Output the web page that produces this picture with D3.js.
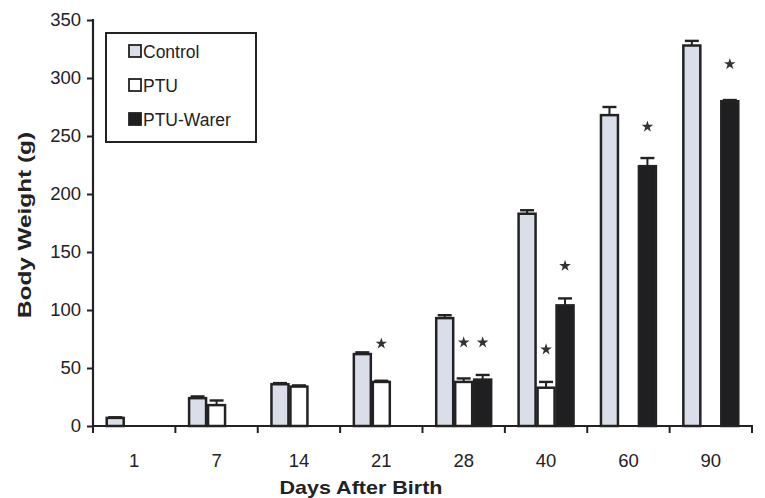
<!DOCTYPE html>
<html><head><meta charset="utf-8">
<script src="https://cdn.jsdelivr.net/npm/d3@7"></script>
<style>body{margin:0;background:#fff}svg{display:block}text{font-family:"Liberation Sans",Arial,sans-serif;fill:#222}</style>
</head><body><svg id="c" width="765" height="498"></svg>
<script>
const days = ["1","7","14","21","28","40","60","90"];
const seriesNames = ["Control","PTU","PTU-Warer"];
const controlVals = [7,24,36,62,93,183,268,328];
const controlErr  = [0.5,1.5,1,1.5,2.5,3,7,4];
const ptuVals     = [null,18,34,38,38,33,null,null];
const ptuErr      = [null,4,1,1,3,5,null,null];
const warerVals   = [null,null,null,null,40,104,224,280];
const warerErr    = [null,null,null,null,4,6,7,1];
// significance marks: [day, series, y position in g]
const starDays    = ["21","28","28","40","40","60","90"];
const starSeries  = ["PTU","PTU","PTU-Warer","PTU","PTU-Warer","PTU-Warer","PTU-Warer"];
const starY       = [71,72,72,66,138,258,312];
const yTicks = [0,50,100,150,200,250,300,350];

const fills = {"Control":"#d9dee8","PTU":"#ffffff","PTU-Warer":"#1f1f22"};
const svg = d3.select("#c");
const x = d3.scaleBand().domain(days).range([93,752]).padding(0);
const xi = d3.scaleBand().domain(seriesNames).range([0,x.bandwidth()]).paddingInner(0).paddingOuter(0.67);
const y = d3.scaleLinear().domain([0,350]).range([426,20]);

const vals = {"Control":controlVals,"PTU":ptuVals,"PTU-Warer":warerVals};
const errs = {"Control":controlErr,"PTU":ptuErr,"PTU-Warer":warerErr};
const rows = [];
seriesNames.forEach(s=>days.forEach((d,i)=>{ if(vals[s][i]!=null) rows.push({s,d,v:vals[s][i],e:errs[s][i]}); }));

const g = svg.append("g");
const eb = g.selectAll("g.eb").data(rows.filter(r=>r.e)).join("g");
eb.append("line").attr("x1",r=>x(r.d)+xi(r.s)+xi.bandwidth()/2).attr("x2",r=>x(r.d)+xi(r.s)+xi.bandwidth()/2)
  .attr("y1",r=>y(r.v)).attr("y2",r=>y(r.v+r.e)).attr("stroke","#222").attr("stroke-width",2);
eb.append("line").attr("x1",r=>x(r.d)+xi(r.s)+xi.bandwidth()/2-7).attr("x2",r=>x(r.d)+xi(r.s)+xi.bandwidth()/2+7)
  .attr("y1",r=>y(r.v+r.e)).attr("y2",r=>y(r.v+r.e)).attr("stroke","#222").attr("stroke-width",2.4);

g.selectAll("rect.bar").data(rows).join("rect")
  .attr("x",r=>x(r.d)+xi(r.s)+1).attr("width",xi.bandwidth()-2)
  .attr("y",r=>y(r.v)).attr("height",r=>y(0)-y(r.v))
  .attr("fill",r=>fills[r.s]).attr("stroke","#222").attr("stroke-width",2.5);

const star = d3.symbol().type(d3.symbolStar).size(42);
g.selectAll("path.star").data(starDays.map((d,i)=>({d,s:starSeries[i],v:starY[i]}))).join("path")
  .attr("d",star).attr("fill","#333")
  .attr("transform",r=>`translate(${x(r.d)+xi(r.s)+xi.bandwidth()/2},${y(r.v)})`);

const ya = svg.append("g").attr("transform","translate(93,0)")
  .call(d3.axisLeft(y).tickValues(yTicks).tickSize(6).tickSizeOuter(0).tickPadding(6));
ya.select(".domain").remove();
ya.selectAll("line").attr("stroke","#222").attr("stroke-width",2);
ya.selectAll("text").attr("font-size",18.5).attr("fill","#222").style("font-family","Liberation Sans, Arial");
svg.append("line").attr("x1",93).attr("x2",93).attr("y1",y(350)-1).attr("y2",y(0)+1).attr("stroke","#222").attr("stroke-width",2.2);

const xa = svg.append("g").attr("transform",`translate(0,${y(0)})`);
xa.append("line").attr("x1",92).attr("x2",753).attr("stroke","#222").attr("stroke-width",2.2);
const bounds = days.map(d=>x(d)).concat([x(days[days.length-1])+x.bandwidth()]);
xa.selectAll("line.t").data(bounds).join("line").attr("x1",d=>d).attr("x2",d=>d).attr("y1",0).attr("y2",7).attr("stroke","#222").attr("stroke-width",2);
xa.selectAll("text").data(days).join("text").attr("x",d=>x(d)+x.bandwidth()/2).attr("y",41)
  .attr("text-anchor","middle").attr("font-size",18.5).text(d=>d);

svg.append("text").attr("x",361).attr("y",494).attr("text-anchor","middle").attr("font-size",19).attr("font-weight","bold")
  .attr("textLength",163).attr("lengthAdjust","spacingAndGlyphs").text("Days After Birth");
svg.append("text").attr("transform","translate(31,225) rotate(-90)").attr("text-anchor","middle").attr("font-size",19).attr("font-weight","bold")
  .attr("textLength",186).attr("lengthAdjust","spacingAndGlyphs").text("Body Weight (g)");

const lg = svg.append("g");
lg.append("rect").attr("x",106).attr("y",33).attr("width",150).attr("height",109).attr("fill","#fff").attr("stroke","#222").attr("stroke-width",2);
const li = lg.selectAll("g.li").data(seriesNames).join("g").attr("transform",(d,i)=>`translate(129,${51+i*34})`);
li.append("rect").attr("x",0).attr("y",-6).attr("width",12).attr("height",12).attr("fill",d=>fills[d]).attr("stroke","#222").attr("stroke-width",1.8);
li.append("text").attr("x",14).attr("y",6.5).attr("font-size",17.5).text(d=>d);
</script></body></html>
